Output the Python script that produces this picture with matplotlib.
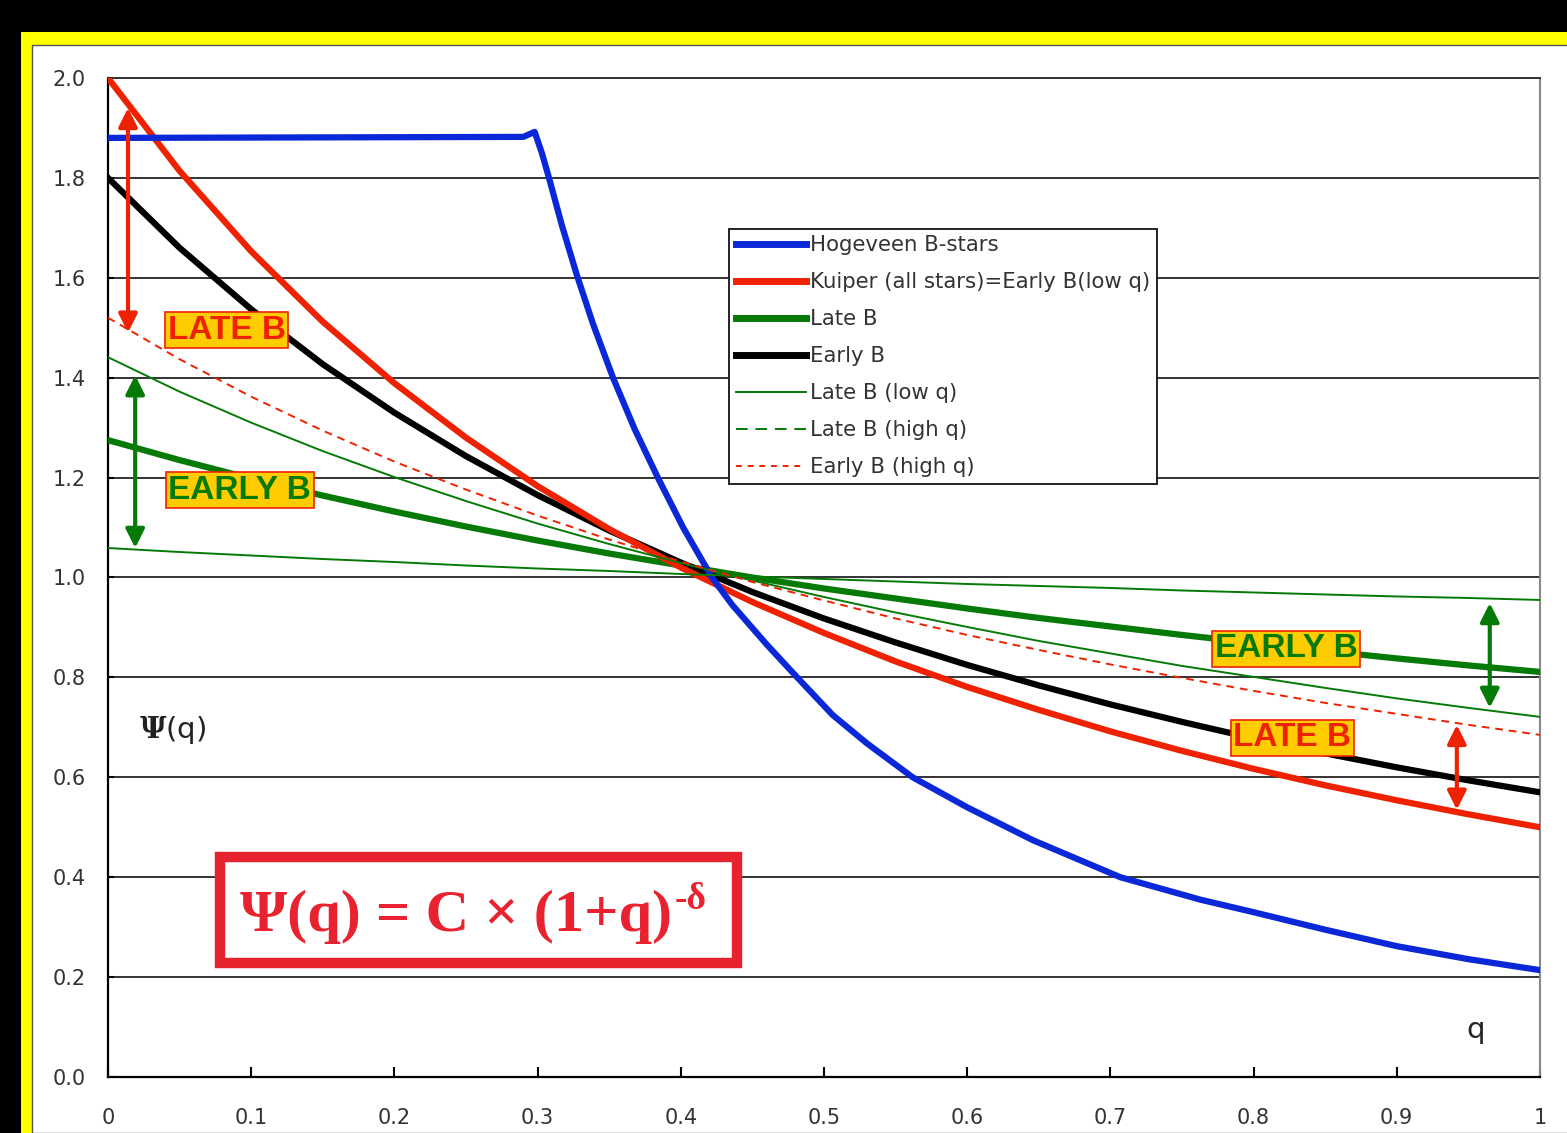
import numpy as np
import matplotlib
matplotlib.use("Agg")
import matplotlib.pyplot as plt
from matplotlib.patches import Rectangle
from matplotlib.lines import Line2D

plt.rcParams["mathtext.fontset"] = "dejavuserif"

# mass ratio grid and curves
q = [0.0, 0.05, 0.1, 0.15, 0.2, 0.25, 0.3, 0.35, 0.4, 0.45, 0.5,
     0.55, 0.6, 0.65, 0.7, 0.75, 0.8, 0.85, 0.9, 0.95, 1.0]

kuiper = [2.000, 1.814, 1.653, 1.512, 1.389, 1.280, 1.183, 1.097, 1.020, 0.951, 0.889,
          0.832, 0.781, 0.735, 0.692, 0.653, 0.617, 0.584, 0.554, 0.526, 0.500]
early_b = [1.800, 1.660, 1.537, 1.427, 1.330, 1.243, 1.165, 1.094, 1.030, 0.971, 0.918,
           0.870, 0.825, 0.784, 0.746, 0.711, 0.678, 0.648, 0.620, 0.594, 0.570]
late_b = [1.275, 1.235, 1.198, 1.164, 1.132, 1.102, 1.074, 1.048, 1.024, 1.000, 0.978,
          0.958, 0.938, 0.919, 0.902, 0.885, 0.869, 0.853, 0.838, 0.824, 0.811]
late_b_low = [1.441, 1.372, 1.310, 1.253, 1.201, 1.153, 1.108, 1.067, 1.029, 0.994, 0.961,
              0.930, 0.901, 0.873, 0.848, 0.823, 0.801, 0.779, 0.758, 0.739, 0.721]
late_b_high = [1.059, 1.051, 1.044, 1.037, 1.031, 1.024, 1.018, 1.013, 1.007, 1.002, 0.997,
               0.992, 0.987, 0.983, 0.979, 0.974, 0.970, 0.966, 0.962, 0.959, 0.955]
early_b_high = [1.520, 1.437, 1.362, 1.294, 1.232, 1.176, 1.124, 1.076, 1.032, 0.991, 0.954,
                0.918, 0.885, 0.855, 0.826, 0.799, 0.773, 0.749, 0.727, 0.705, 0.685]

# Hogeveen B-stars, own sampling
q_hog = [0.0, 0.29, 0.298, 0.303, 0.308, 0.317, 0.3275, 0.3387, 0.3527, 0.368, 0.384,
         0.4015, 0.4218, 0.436, 0.460, 0.481, 0.506, 0.530, 0.562, 0.600,
         0.646, 0.707, 0.763, 0.800, 0.850, 0.900, 0.950, 1.0]
hogeveen = [1.880, 1.882, 1.892, 1.850, 1.800, 1.705, 1.605, 1.508, 1.400, 1.296, 1.200,
            1.101, 1.000, 0.945, 0.866, 0.801, 0.725, 0.668, 0.600, 0.540,
            0.474, 0.400, 0.355, 0.330, 0.295, 0.262, 0.236, 0.214]

x_ticks = [0, 0.1, 0.2, 0.3, 0.4, 0.5, 0.6, 0.7, 0.8, 0.9, 1.0]
x_labels = ["0", "0.1", "0.2", "0.3", "0.4", "0.5", "0.6", "0.7", "0.8", "0.9", "1"]
y_ticks = [0.0, 0.2, 0.4, 0.6, 0.8, 1.0, 1.2, 1.4, 1.6, 1.8, 2.0]

BLUE = "#0a28d8"
RED = "#ee2200"
GREEN = "#067a06"
GOLD = "#ffcc00"

fig = plt.figure(figsize=(15.67, 11.33), dpi=100, facecolor="black")
# yellow frame and white page
fig.patches.append(Rectangle((0.0134, 0), 1, 0.9718, transform=fig.transFigure,
                             facecolor="#ffff00", edgecolor="none", zorder=-2))
fig.patches.append(Rectangle((0.0204, 0), 1, 0.9603, transform=fig.transFigure,
                             facecolor="white", edgecolor="#555555", lw=1, zorder=-1))

ax = fig.add_axes([0.0689, 0.0494, 0.9138, 0.8818])
ax.set_facecolor("white")
ax.set_xlim(0, 1)
ax.set_ylim(0, 2.0)

ax.set_yticks(y_ticks)
ax.set_yticklabels([f"{v:.1f}" for v in y_ticks])
ax.set_xticks(x_ticks)
ax.set_xticklabels(x_labels)
ax.tick_params(axis="x", direction="in", length=7, width=1.5, pad=22,
               labelsize=15, labelcolor="#333333")
ax.tick_params(axis="y", direction="in", length=4, width=1.5, pad=16,
               labelsize=15, labelcolor="#333333")
ax.yaxis.grid(True, color="#333333", lw=1.4)
ax.set_axisbelow(True)
for side in ["left", "bottom"]:
    ax.spines[side].set_color("black")
    ax.spines[side].set_linewidth(1.6)
ax.spines["top"].set_color("#333333")
ax.spines["top"].set_linewidth(1.4)
ax.spines["right"].set_color("#888888")
ax.spines["right"].set_linewidth(1.5)

ax.plot(q, late_b, color=GREEN, lw=4.5, zorder=3)
ax.plot(q, early_b, color="black", lw=4.5, zorder=3)
ax.plot(q, kuiper, color=RED, lw=4.5, zorder=3)
ax.plot(q_hog, hogeveen, color=BLUE, lw=4.5, zorder=4)
ax.plot(q, late_b_low, color=GREEN, lw=1.4, zorder=5)
ax.plot(q, late_b_high, color=GREEN, lw=1.4, zorder=5)
ax.plot(q, early_b_high, color=RED, lw=1.4, ls=(0, (4, 3)), zorder=5)

handles = [
    Line2D([], [], color=BLUE, lw=5),
    Line2D([], [], color=RED, lw=5),
    Line2D([], [], color=GREEN, lw=5),
    Line2D([], [], color="black", lw=5),
    Line2D([], [], color=GREEN, lw=1.4),
    Line2D([], [], color=GREEN, lw=1.4, ls=(0, (6, 4))),
    Line2D([], [], color=RED, lw=1.4, ls=(0, (3, 3))),
]
labels = ["Hogeveen B-stars", "Kuiper (all stars)=Early B(low q)", "Late B", "Early B",
          "Late B (low q)", "Late B (high q)", "Early B (high q)"]
leg = ax.legend(handles, labels, loc="upper left", bbox_to_anchor=(0.434, 0.849),
                borderaxespad=0, fontsize=15.3, handlelength=3.3, handletextpad=0.2,
                labelspacing=0.8, borderpad=0.3, fancybox=False, framealpha=1)
leg.get_frame().set_edgecolor("#222222")
leg.get_frame().set_linewidth(1.4)
for t in leg.get_texts():
    t.set_color("#333333")
leg.set_zorder(10)

# highlighted labels
box_kw = dict(boxstyle="square,pad=0.08", facecolor=GOLD, edgecolor=RED, lw=1.2)
lab_kw = dict(fontsize=24, fontweight="bold", family="Liberation Sans",
              ha="center", va="center", zorder=8)
ax.text(0.083, 1.495, "LATE B", color=RED, bbox=box_kw, **lab_kw)
ax.text(0.092, 1.175, "EARLY B", color=GREEN, bbox=box_kw, **lab_kw)
ax.text(0.823, 0.857, "EARLY B", color=GREEN, bbox=box_kw, **lab_kw)
ax.text(0.827, 0.679, "LATE B", color=RED, bbox=box_kw, **lab_kw)

# double arrows showing the spread
arr_kw = dict(arrowstyle="<|-|>", lw=3, mutation_scale=28, shrinkA=0, shrinkB=0)
ax.annotate("", xy=(0.014, 1.94), xytext=(0.014, 1.49),
            arrowprops=dict(color=RED, **arr_kw), zorder=7)
ax.annotate("", xy=(0.019, 1.405), xytext=(0.019, 1.059),
            arrowprops=dict(color=GREEN, **arr_kw), zorder=7)
ax.annotate("", xy=(0.965, 0.949), xytext=(0.965, 0.739),
            arrowprops=dict(color=GREEN, **arr_kw), zorder=7)
ax.annotate("", xy=(0.942, 0.705), xytext=(0.942, 0.535),
            arrowprops=dict(color=RED, **arr_kw), zorder=7)

ax.text(0.045, 0.695, r"$\mathbf{\Psi}$(q)", fontsize=21, color="#222222",
        ha="center", va="center")
ax.text(0.955, 0.094, "q", fontsize=21, color="#222222", ha="center", va="center")

# formula box
ax.add_patch(Rectangle((0.0782, 0.2282), 0.4392 - 0.0782, 0.4404 - 0.2282,
                       facecolor="white", edgecolor="#e8222f", lw=7.5, zorder=6))
f = ax.text(0.243, 0.292, "Ψ(q) = C × (1+q)", fontsize=43.5, fontweight="bold",
            family="Liberation Serif", color="#e8222f", ha="center", va="baseline",
            zorder=7)
ax.annotate("-δ", xy=(1.0, 0.82), xycoords=f, xytext=(2, 0), textcoords="offset points",
            fontsize=27, fontweight="bold", family="Liberation Serif",
            color="#e8222f", ha="left", va="center", zorder=7)

fig.savefig("out.png", dpi=100, facecolor="black")
